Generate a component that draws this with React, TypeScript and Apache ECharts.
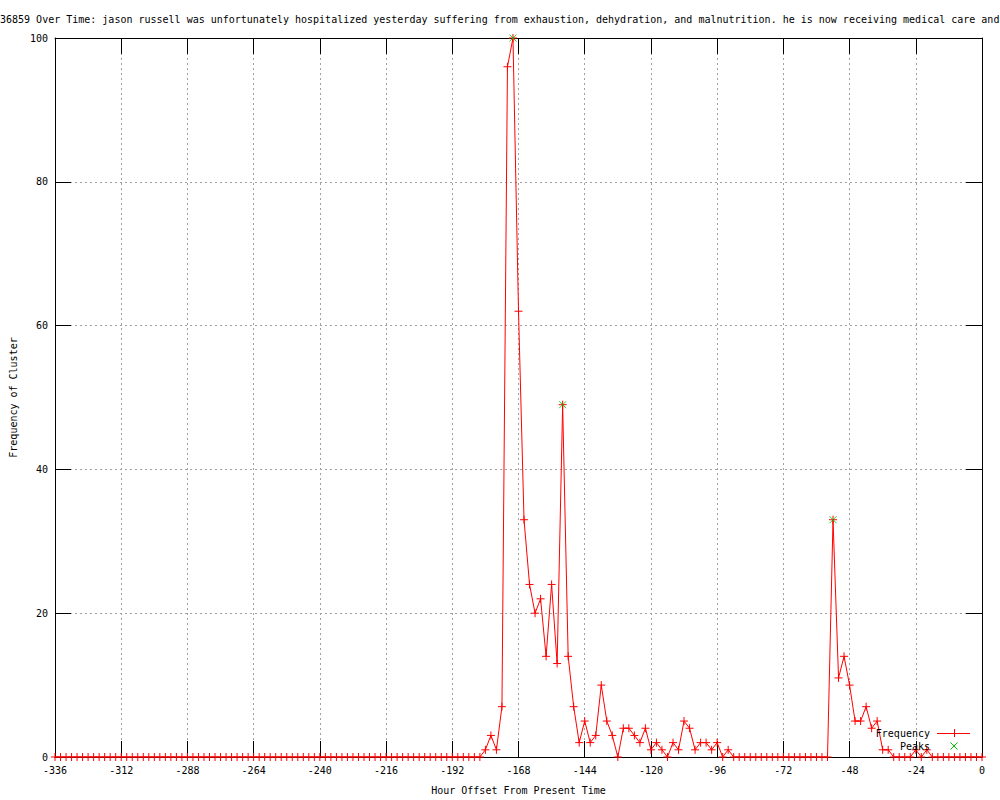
import React, { useEffect, useRef } from "react";
import * as echarts from "echarts";

const TITLE =
  "36859 Over Time: jason russell was unfortunately hospitalized yesterday suffering from exhaustion, dehydration, and malnutrition. he is now receiving medical care and";
const X_NAME = "Hour Offset From Present Time";
const Y_NAME = "Frequency of Cluster";
const SERIES_FREQ = "Frequency";
const SERIES_PEAKS = "Peaks";

// hour bins: -336, -334, ..., 0 (one value per 2-hour bin)
const HOUR_START = -336;
const HOUR_STEP = 2;
const frequency = [
  // -336 .. -182
  0, 0, 0, 0, 0, 0, 0, 0, 0, 0, 0, 0, 0, 0, 0, 0, 0, 0, 0, 0,
  0, 0, 0, 0, 0, 0, 0, 0, 0, 0, 0, 0, 0, 0, 0, 0, 0, 0, 0, 0,
  0, 0, 0, 0, 0, 0, 0, 0, 0, 0, 0, 0, 0, 0, 0, 0, 0, 0, 0, 0,
  0, 0, 0, 0, 0, 0, 0, 0, 0, 0, 0, 0, 0, 0, 0, 0, 0, 0,
  // -180 .. -92
  1, 3, 1, 7, 96, 100, 62, 33, 24, 20, 22, 14, 24, 13, 49, 14, 7, 2, 5, 2,
  3, 10, 5, 3, 0, 4, 4, 3, 2, 4, 1, 2, 1, 0, 2, 1, 5, 4, 1, 2,
  2, 1, 2, 0, 1,
  // -90 .. -56
  0, 0, 0, 0, 0, 0, 0, 0, 0, 0, 0, 0, 0, 0, 0, 0, 0, 0,
  // -54 .. -34
  33, 11, 14, 10, 5, 5, 7, 4, 5, 1, 1,
  // -32 .. -20
  0, 0, 0, 0, 1, 0, 1,
  // -18 .. 0
  0, 0, 0, 0, 0, 0, 0, 0, 0, 0,
];
const hours = frequency.map((_, i) => HOUR_START + i * HOUR_STEP);

const peakHours = [-170, -152, -54];
const peakValues = [100, 49, 33];

const X_MIN = -336;
const X_MAX = 0;
const X_INTERVAL = 24;
const Y_MIN = 0;
const Y_MAX = 100;
const Y_INTERVAL = 20;

const FONT = "'DejaVu Sans Mono', monospace";
const RED = "#ff0000";
const GREEN = "#00c000";
const PLUS = "path://M0,5L10,5M5,0L5,10";
const CROSS = "path://M0,0L10,10M10,0L0,10";

export default function App() {
  const ref = useRef<HTMLDivElement>(null);

  useEffect(() => {
    if (!ref.current) return;
    const chart = echarts.init(ref.current, null, { renderer: "svg" });

    const tickStyle = { show: true, inside: true, length: 16, lineStyle: { color: "#000", width: 1 } };
    const axisLine = { show: true, onZero: false, lineStyle: { color: "#000", width: 1 } };
    const split = { show: true, lineStyle: { color: "#a0a0a0", width: 1, type: [2, 3] as any } };

    const legendX = 930;
    const legendY1 = 733;
    const legendY2 = 746;
    const sx = 954;

    chart.setOption({
      animation: false,
      backgroundColor: "#fff",
      title: {
        text: TITLE,
        left: 0,
        top: 14,
        padding: 0,
        textStyle: { fontFamily: FONT, fontSize: 10, fontWeight: "normal", color: "#000" },
      },
      grid: { left: 55, top: 38, width: 927, height: 723, containLabel: false },
      xAxis: [
        {
          type: "value",
          min: X_MIN,
          max: X_MAX,
          interval: X_INTERVAL,
          name: X_NAME,
          nameLocation: "middle",
          nameGap: 28,
          nameTextStyle: { fontFamily: FONT, fontSize: 10, color: "#000" },
          axisLine,
          axisTick: tickStyle,
          axisLabel: { fontFamily: FONT, fontSize: 10, color: "#000", margin: 8 },
          splitLine: split,
        },
        {
          type: "value",
          position: "top",
          min: X_MIN,
          max: X_MAX,
          interval: X_INTERVAL,
          axisLine,
          axisTick: tickStyle,
          axisLabel: { show: false },
          splitLine: { show: false },
        },
      ],
      yAxis: [
        {
          type: "value",
          min: Y_MIN,
          max: Y_MAX,
          interval: Y_INTERVAL,
          name: Y_NAME,
          nameLocation: "middle",
          nameGap: 37,
          nameRotate: 90,
          nameTextStyle: { fontFamily: FONT, fontSize: 10, color: "#000" },
          axisLine,
          axisTick: tickStyle,
          axisLabel: { fontFamily: FONT, fontSize: 10, color: "#000", margin: 7 },
          splitLine: split,
        },
        {
          type: "value",
          position: "right",
          min: Y_MIN,
          max: Y_MAX,
          interval: Y_INTERVAL,
          axisLine,
          axisTick: tickStyle,
          axisLabel: { show: false },
          splitLine: { show: false },
        },
      ],
      series: [
        {
          name: SERIES_FREQ,
          type: "line",
          data: hours.map((h, i) => [h, frequency[i]]),
          xAxisIndex: 0,
          yAxisIndex: 0,
          symbol: PLUS,
          symbolSize: 8,
          showAllSymbol: true,
          lineStyle: { color: RED, width: 1 },
          itemStyle: { color: RED, borderColor: RED, borderWidth: 1 },
          emphasis: { disabled: true },
          z: 3,
        },
        {
          name: SERIES_PEAKS,
          type: "scatter",
          data: peakHours.map((h, i) => [h, peakValues[i]]),
          xAxisIndex: 0,
          yAxisIndex: 0,
          symbol: CROSS,
          symbolSize: 7,
          itemStyle: { color: GREEN, borderColor: GREEN, borderWidth: 1 },
          emphasis: { disabled: true },
          z: 4,
        },
      ],
      graphic: [
        {
          type: "text",
          x: legendX,
          y: legendY1,
          z: 10,
          style: { text: SERIES_FREQ, fontFamily: FONT, fontSize: 10, fill: "#000", align: "right", verticalAlign: "middle" },
        },
        { type: "line", z: 10, shape: { x1: 937, y1: legendY1 + 0.5, x2: 970, y2: legendY1 + 0.5 }, style: { stroke: RED, lineWidth: 1 } },
        { type: "line", z: 10, shape: { x1: sx + 0.5, y1: legendY1 - 4, x2: sx + 0.5, y2: legendY1 + 4 }, style: { stroke: RED, lineWidth: 1 } },
        {
          type: "text",
          x: legendX,
          y: legendY2,
          z: 10,
          style: { text: SERIES_PEAKS, fontFamily: FONT, fontSize: 10, fill: "#000", align: "right", verticalAlign: "middle" },
        },
        { type: "line", z: 10, shape: { x1: sx - 3.5, y1: legendY2 - 3.5, x2: sx + 3.5, y2: legendY2 + 3.5 }, style: { stroke: GREEN, lineWidth: 1 } },
        { type: "line", z: 10, shape: { x1: sx + 3.5, y1: legendY2 - 3.5, x2: sx - 3.5, y2: legendY2 + 3.5 }, style: { stroke: GREEN, lineWidth: 1 } },
      ],
    });

    return () => chart.dispose();
  }, []);

  return (
    <div
      ref={ref}
      style={{ position: "fixed", left: 0, top: 0, width: 1000, height: 800, background: "#fff" }}
    />
  );
}
